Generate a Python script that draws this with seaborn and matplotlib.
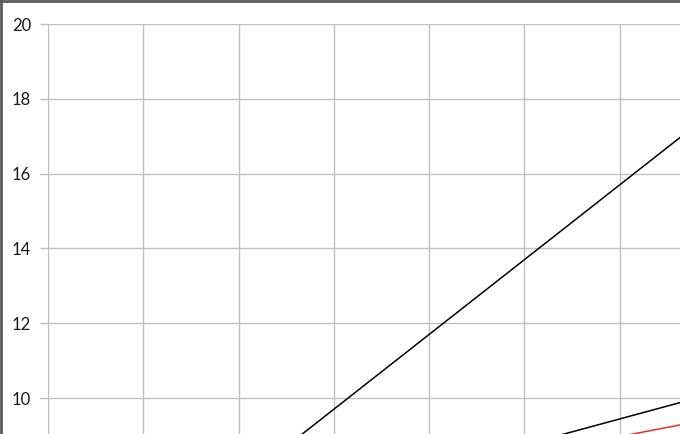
import pandas as pd
import matplotlib
matplotlib.use('Agg')
import matplotlib.pyplot as plt
import seaborn as sns
from matplotlib.lines import Line2D

# values (x at each vertical gridline)
x_vals = [0, 1, 2, 3, 4, 5, 6, 7]
line_a = [3.7, 5.7, 7.7, 9.7, 11.7, 13.7, 15.7, 17.7]
line_b = [5.3, 5.99, 6.68, 7.37, 8.06, 8.75, 9.44, 10.13]
line_red = [6.0, 6.5, 6.99, 7.48, 7.97, 8.47, 8.97, 9.46]
y_ticks = [10, 12, 14, 16, 18, 20]

df = pd.DataFrame({
    'x': x_vals * 3,
    'y': line_a + line_b + line_red,
    'series': ['a'] * 8 + ['b'] * 8 + ['red'] * 8,
})

sns.set_style('white')
plt.rcParams['font.family'] = ['Lato', 'DejaVu Sans']

fig = plt.figure(figsize=(6.8, 4.34), dpi=100)
ax = fig.add_axes([48 / 680, -0.0894, 667 / 680, 1.034])

sns.lineplot(data=df, x='x', y='y', hue='series',
             palette={'a': 'black', 'b': 'black', 'red': '#e0302a'},
             linewidth=1.1, legend=False, ax=ax)

ax.set_xlim(0, 7)
ax.set_ylim(8, 20)
ax.set_xticks(x_vals)
ax.set_yticks(y_ticks)
ax.set_xticklabels([])
ax.grid(True, color='#bfbfbf', linewidth=1)
ax.set_axisbelow(True)
for s in ax.spines.values():
    s.set_visible(False)
ax.tick_params(axis='y', length=6, width=1, color='#bfbfbf', pad=6,
               labelsize=12, labelcolor='#1a1a1a', left=True)
ax.tick_params(axis='x', length=0)
ax.set_xlabel('')
ax.set_ylabel('')

# frame edge along top and left
fig.add_artist(Line2D([0, 1], [1 - 1 / 434, 1 - 1 / 434], transform=fig.transFigure,
                      color='#595959', linewidth=2))
fig.add_artist(Line2D([1 / 680, 1 / 680], [0, 1], transform=fig.transFigure,
                      color='#595959', linewidth=2))

fig.savefig('out.png', dpi=100)
